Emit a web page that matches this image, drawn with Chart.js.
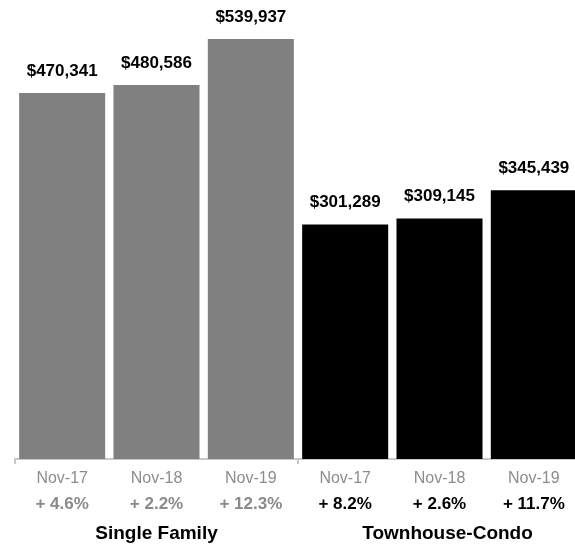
<!DOCTYPE html>
<html>
<head>
<meta charset="utf-8">
<script src="https://cdn.jsdelivr.net/npm/chart.js@4"></script>
<style>
    html, body { margin: 0; padding: 0; background: #fff; overflow: hidden; }
    #wrap { width: 582px; height: 548px; position: relative; }
</style>
</head>
<body>
<div id="wrap"><canvas id="priceChart"></canvas></div>
<script>
(function () {
    'use strict';

    // ─── Data ────────────────────────────────────────────────────────────────
    const months  = ['Nov-17', 'Nov-18', 'Nov-19', 'Nov-17', 'Nov-18', 'Nov-19'];
    const prices  = [470341, 480586, 539937, 301289, 309145, 345439];
    const changes = ['+ 4.6%', '+ 2.2%', '+ 12.3%', '+ 8.2%', '+ 2.6%', '+ 11.7%'];
    const groups  = ['Single Family', 'Townhouse-Condo'];
    const groupOf = [0, 0, 0, 1, 1, 1];

    const GREY   = '#808080';
    const BLACK  = '#000000';
    const FONT   = '"Liberation Sans", Arial, Helvetica, sans-serif';

    function fmt(n) {
        return '$' + n.toLocaleString('en-US');
    }

    // ─── Labels drawn around the bars ────────────────────────────────────────
    const labelPlugin = {
        id: 'labels',
        afterDraw(chart) {
            const ctx  = chart.ctx;
            const meta = chart.getDatasetMeta(0);
            const x    = chart.scales.x;
            ctx.save();
            ctx.textAlign = 'center';
            ctx.textBaseline = 'middle';

            // values above bars
            ctx.font = 'bold 17px ' + FONT;
            ctx.fillStyle = '#000';
            meta.data.forEach((bar, i) => {
                ctx.fillText(fmt(prices[i]), bar.x, bar.y - 22);
            });

            // percent change row
            ctx.font = 'bold 17px ' + FONT;
            changes.forEach((c, i) => {
                ctx.fillStyle = groupOf[i] === 0 ? '#8a8a8a' : '#000';
                ctx.fillText(c, x.getPixelForValue(i), 504);
            });

            // group names
            ctx.font = 'bold 19px ' + FONT;
            ctx.fillStyle = '#000';
            groups.forEach((g, gi) => {
                const idx = groupOf.map((v, i) => v === gi ? i : -1).filter(i => i >= 0);
                const cx = (x.getPixelForValue(idx[0]) + x.getPixelForValue(idx[idx.length - 1])) / 2;
                ctx.fillText(g, cx + (gi === 1 ? 8 : 0), 534);
            });
            ctx.restore();
        }
    };

    new Chart(document.getElementById('priceChart'), {
        type: 'bar',
        data: {
            labels: months,
            datasets: [{
                data: prices,
                backgroundColor: groupOf.map(g => g === 0 ? GREY : BLACK),
                borderWidth: 0,
                barPercentage: 0.912,
                categoryPercentage: 1.0,
            }],
        },
        options: {
            responsive: true,
            maintainAspectRatio: false,
            animation: false,
            layout: { padding: { left: 15, right: 1, top: 0, bottom: 0 } },
            plugins: {
                legend: { display: false },
                tooltip: { enabled: false },
            },
            scales: {
                y: {
                    display: false,
                    min: 0,
                    max: 590000,
                },
                x: {
                    afterFit: s => { s.height = 89; },
                    border: { display: true, color: '#c8c8c8', width: 2 },
                    grid: {
                        offset: true,
                        drawOnChartArea: false,
                        drawTicks: true,
                        tickLength: 5,
                        lineWidth: 2,
                        color: c => (c.index === 0 || c.index === 3) ? '#c8c8c8' : 'rgba(0,0,0,0)',
                    },
                    ticks: {
                        color: '#8c8c8c',
                        font: { family: FONT, size: 16 },
                        padding: 5,
                        maxRotation: 0,
                    },
                },
            },
        },
        plugins: [labelPlugin],
    });
})();
</script>
</body>
</html>
